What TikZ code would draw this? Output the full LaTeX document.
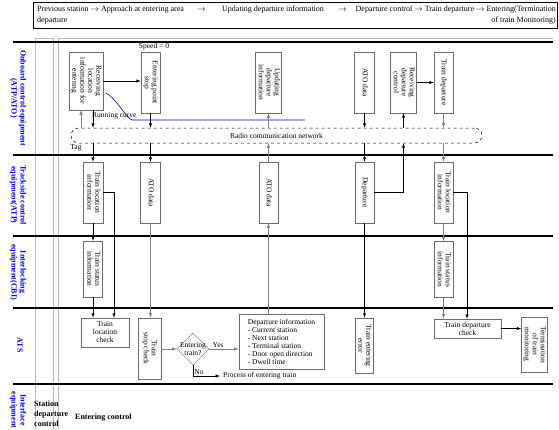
\documentclass[tikz,border=0pt]{standalone}
\usepackage{fontspec}
\setmainfont{Liberation Serif}
\usetikzlibrary{shapes.geometric,arrows}

\newcommand{\vtext}[1]{\rotatebox{-90}{\begin{tabular}{@{}c@{}}#1\end{tabular}}}

\tikzset{
  box/.style={draw=gray!85!black, fill=white, inner sep=1pt, line width=0.5pt,
    font=\fontsize{7.5}{8}\selectfont, align=center},
  lane/.style={blue, font=\fontsize{8}{9}\selectfont\bfseries, align=center, rotate=-90},
  hdr/.style={font=\fontsize{8}{9}\selectfont, inner sep=0pt},
  small/.style={font=\fontsize{7.5}{8}\selectfont, inner sep=1pt, text=black},
  arr/.style={-latex, black, line width=0.5pt},
  garr/.style={-latex, gray, line width=0.6pt},
  lanesep/.style={line width=1.1pt},
  colline/.style={gray!55, line width=0.6pt},
}

\begin{document}
\begin{tikzpicture}[x=1pt,y=-1pt]
	\useasboundingbox (0,0) rectangle (559,429);

	% header
	\draw[line width=0.6pt] (33,2) rectangle (557,28);
	\node[hdr, anchor=base west] (h1) at (37,11) {Previous station $\rightarrow$ Approach at entering area};
	\node[hdr, anchor=base west] (h2) at (197,11) {$\rightarrow$};
	\node[hdr, anchor=base west] (h3) at (222,11) {Updating departure information};
	\node[hdr, anchor=base west] (h4) at (338,11) {$\rightarrow$};
	\node[hdr, anchor=base east] (h5) at (556,11) {Departure control $\rightarrow$ Train departure $\rightarrow$ Entering(Termination};
	\node[hdr, anchor=base west] (h6) at (37,22) {departure};
	\node[hdr, anchor=base east] (h7) at (556,22) {of train Monitoring)};

	% columns and lanes
	\draw[colline] (35,38) -- (35,429) (53,38) -- (53,429) (58,38) -- (58,429);
	\draw[colline] (35,38) -- (53,38) (58,38) -- (553,38);
	\foreach \y in {42,155,236,308,384}
		\draw[lanesep] (13,\y) -- (553,\y);

	\node[lane] (l1) at (18,98) {Onboard control equipment\\(ATP/ATO)};
	\node[lane] (l2) at (18,195) {Trackside control\\equipment(ATP)};
	\node[lane] (l3) at (18,272) {Interlocking\\equipment(CBI)};
	\node[lane] (l4) at (20,345) {ATS};
	\node[lane] (l5) at (18,410) {Interface\\equipment};
	\node[font=\fontsize{8}{10}\selectfont\bfseries, align=left, anchor=west, inner sep=0pt] (sdc) at (34,414) {Station\\departure\\control};
	\node[font=\fontsize{8}{10}\selectfont\bfseries, anchor=west, inner sep=0pt] (ec) at (75,418) {Entering control};

	% onboard
	\node[box, minimum width=32, minimum height=58] (b1) at (86,81) {\vtext{Receiving\\location\\information for\\entering}};
	\node[box, minimum width=19, minimum height=61] (b2) at (150.5,82.5) {\vtext{Entering point\\stop}};
	\node[box, minimum width=20, minimum height=61] (b3) at (268.5,82.5) {\vtext{Updating\\departure\\information}};
	\node[box, minimum width=20, minimum height=61] (b4) at (364.5,82.5) {\vtext{ATO data}};
	\node[box, minimum width=25, minimum height=61] (b5) at (403.5,82.5) {\vtext{Receiving\\departure\\control}};
	\node[box, minimum width=19, minimum height=61] (b6) at (443.5,82.5) {\vtext{Train departure}};
	\node[small] (spd) at (154,47) {Speed = 0};

	\draw[arr] (b1.east) -- (b1.east -| b2.west);
	\draw[arr] (b5.east) -- (b5.east -| b6.west);

	\draw[blue, line width=0.6pt] (106,93) .. controls (116,98) and (126,118) .. (132,120) -- (305,120);
	\node[small, anchor=west] (rc) at (91,116) {Running curve};

	\node[draw, dashed, line width=0.5pt, rounded corners=7.5pt, minimum width=411, minimum height=15,
		font=\fontsize{7.5}{8}\selectfont] (net) at (276.5,135.5) {Radio communication network};
	\node[small] (tag) at (76,148) {Tag};

	% trackside
	\node[box, minimum width=20, minimum height=61] (t1) at (93,192.5) {\vtext{Train location\\information}};
	\node[box, minimum width=20, minimum height=61] (t2) at (150.5,192.5) {\vtext{ATO data}};
	\node[box, minimum width=19, minimum height=61] (t3) at (268.5,192.5) {\vtext{ATO data}};
	\node[box, minimum width=19, minimum height=61] (t4) at (364.5,192.5) {\vtext{Departure}};
	\node[box, minimum width=19, minimum height=61] (t5) at (443.5,192.5) {\vtext{Train location\\information}};

	% interlocking
	\node[box, minimum width=19, minimum height=56] (i1) at (93,269) {\vtext{Train status\\information}};
	\node[box, minimum width=19, minimum height=56] (i2) at (443.5,269.5) {\vtext{Train status\\information}};

	% ATS
	\node[box, minimum width=48, minimum height=29] (a1) at (105,332.5) {Train\\location\\check};
	\node[box, minimum width=23, minimum height=61] (a2) at (149.5,348.5) {\vtext{Train\\stop check}};
	\node[draw=gray!85!black, diamond, minimum width=32, minimum height=32, inner sep=0pt] (ask) at (193,349) {};
	\node[small, align=center, inner sep=0pt] (askt) at (ask) {Entering\\train?};
	\node[box, align=left, minimum width=85, minimum height=55] (dep) at (281.5,341.5)
		{Departure information\\- Current station\\- Next station\\- Terminal station\\- Door open direction\\- Dwell time};
	\node[box, minimum width=16, minimum height=55] (a4) at (364,345.5) {\vtext{Train entering\\error}};
	\node[box, minimum width=67, minimum height=19] (a5) at (467.5,328.5) {Train departure\\check};
	\node[box, minimum width=25, minimum height=55] (a6) at (534.5,344.5) {\vtext{Termination\\of train\\monitoring}};
	\node[small, anchor=west, inner sep=3pt] (proc) at (220,376) {Process of entering train};

	% column points
	\coordinate (k1) at (81,0);
	\coordinate (k8) at (114,0);
	\coordinate (k9) at (467,0);

	% links through the radio network
	\draw[garr] (k1 |- net.north) -- (k1 |- b1.south);
	\draw[arr] (t1.north |- b1.south) -- (t1.north |- net.north);
	\draw[arr] (t1.north |- net.south) -- (t1.north);
	\draw[arr] (b2.south) -- (b2.south |- net.north);
	\draw[arr] (b2.south |- net.south) -- (t2.north);
	\draw[garr] (b3.south |- net.north) -- (b3.south);
	\draw[garr] (t3.north) -- (t3.north |- net.south);
	\draw[arr] (b4.south) -- (b4.south |- net.north);
	\draw[arr] (b4.south |- net.south) -- (t4.north);
	\draw[arr] (b5.south |- net.north) -- (b5.south);
	\draw[arr] (t4.east) -- (t4.east -| b5.south) -- (b5.south |- net.south);
	\draw[garr] (b6.south) -- (b6.south |- net.north);
	\draw[garr] (b6.south |- net.south) -- (t5.north);

	% down to interlocking and ATS
	\draw[arr] (t1.south) -- (i1.north);
	\draw[arr] (t1.east) -- (t1.east -| k8) -- (k8 |- a1.north);
	\draw[arr] (i1.south) -- (i1.south |- a1.north);
	\draw[garr] (t2.south) -- (t2.south |- a2.north);
	\draw[garr] (t3.south |- dep.north) -- (t3.south);
	\draw[arr] (t4.south) -- (t4.south |- a4.north);
	\draw[garr] (t5.south) -- (i2.north);
	\draw[arr] (t5.east) -- (t5.east -| k9) -- (k9 |- a5.north);
	\draw[garr] (i2.south) -- (i2.south |- a5.north);

	% ATS flow
	\draw[garr] (a2.east |- ask) -- (ask.west);
	\draw[garr] (ask.east) -- (ask.east -| dep.west) node[pos=0.3, above, small] {Yes};
	\draw[arr] (ask.south) |- (proc.west) node[pos=0.3, right, small] {No};
	\draw[arr] (a5.east) -- (a5.east -| a6.west);

\end{tikzpicture}
\end{document}
